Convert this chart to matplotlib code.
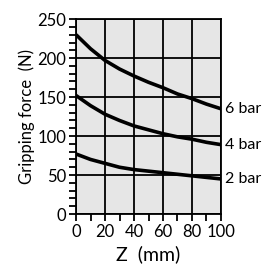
import matplotlib.pyplot as plt
import numpy as np

z = [0, 10, 20, 30, 40, 50, 60, 70, 80, 90, 100]
force_6bar = [230, 212, 197, 186, 177, 169, 162, 154, 148, 141, 135]
force_4bar = [152, 139, 128, 120, 113, 108, 103, 99, 96, 92, 89]
force_2bar = [77, 70, 65, 60, 57, 55, 53, 51, 49, 47, 45]
labels = ["6 bar", "4 bar", "2 bar"]

plt.rcParams["font.family"] = ["Lato", "DejaVu Sans"]

fig = plt.figure(figsize=(2.64, 2.73), dpi=100)
ax = fig.add_axes([0.288, 0.216, 0.549, 0.714])
ax.set_facecolor("#e6e6e6")

for series, lab in zip([force_6bar, force_4bar, force_2bar], labels):
    ax.plot(z, series, color="black", linewidth=2.6, solid_capstyle="butt")
    ax.text(103, series[-1], lab, va="center", ha="left", fontsize=11.5,
            clip_on=False)

ax.set_xlim(0, 100)
ax.set_ylim(0, 250)
ax.set_xticks(np.arange(0, 101, 20))
ax.set_yticks(np.arange(0, 251, 50))
ax.set_xticks(np.arange(0, 101, 10), minor=True)
ax.set_yticks(np.arange(0, 251, 10), minor=True)
ax.grid(True, which="major", color="black", linewidth=1.3)
ax.set_axisbelow(True)
for s in ax.spines.values():
    s.set_linewidth(1.3)

ax.tick_params(which="major", direction="out", length=5, width=1.3,
               labelsize=12, pad=2)
ax.tick_params(which="minor", direction="out", length=5, width=1.3)

ax.set_xlabel("Z  (mm)", fontsize=14, labelpad=4)
ax.set_ylabel("Gripping force  (N)", fontsize=12, labelpad=2)

fig.savefig("out.png", dpi=100)
